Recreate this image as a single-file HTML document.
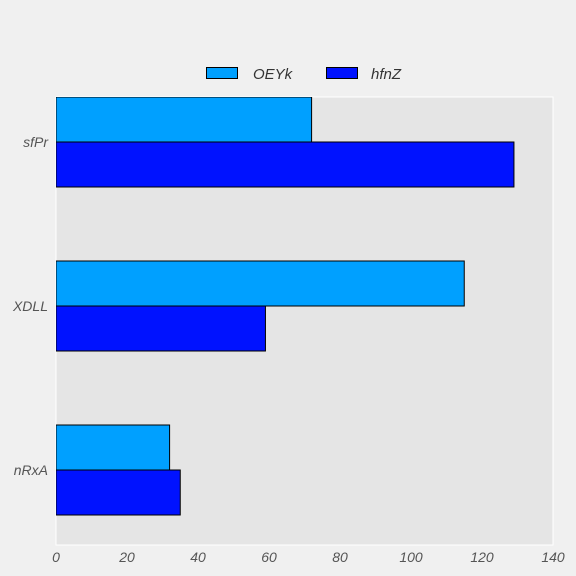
<!DOCTYPE html>
<html><head><meta charset="utf-8"><style>
body{margin:0;background:#f0f0f0;}
svg{display:block;font-family:"Liberation Sans",sans-serif;}
</style></head><body>
<svg id="chart" width="576" height="576" xmlns="http://www.w3.org/2000/svg">
<rect x="0" y="0" width="576" height="576" fill="#f0f0f0"/>
<defs><clipPath id="clip"><rect x="56" y="97" width="497" height="448"/></clipPath></defs>
<rect x="56" y="97" width="497" height="448" fill="#e5e5e5" stroke="#ffffff" stroke-width="1"/>
<g id="bars" clip-path="url(#clip)"></g>
<g id="axes"></g>
<g>
<rect x="206.5" y="67.5" width="31" height="11" fill="#00a0ff" stroke="#000"/>
<text x="253" y="79" font-size="15" font-style="italic" fill="#333">OEYk</text>
<rect x="326.5" y="67.5" width="31" height="11" fill="#0012ff" stroke="#000"/>
<text x="371" y="79" font-size="15" font-style="italic" fill="#333">hfnZ</text>
</g>
</svg>
<script>
const categories = ["nRxA", "XDLL", "sfPr"];
const oeykValues = [32, 115, 72];
const hfnzValues = [35, 59, 129];
const xTicks = [0, 20, 40, 60, 80, 100, 120, 140];
const NS = "http://www.w3.org/2000/svg";
const x0 = 56, xPerUnit = 497 / 140;
function xScale(v){ return x0 + v * xPerUnit; }
function yCenter(i){ return 470 - 164 * i; }
const barH = 45;
const bars = document.getElementById("bars");
const axes = document.getElementById("axes");
function mk(tag, attrs, parent){ const e = document.createElementNS(NS, tag); for (const k in attrs) e.setAttribute(k, attrs[k]); parent.appendChild(e); return e; }
categories.forEach((c, i) => {
  const yc = yCenter(i);
  const r1 = mk("rect", {x: xScale(0), y: yc - barH, width: xScale(oeykValues[i]) - xScale(0), height: barH, fill: "#00a0ff", stroke: "#000", "stroke-width": 1}, bars);
  
  
  const r2 = mk("rect", {x: xScale(0), y: yc, width: xScale(hfnzValues[i]) - xScale(0), height: barH, fill: "#0012ff", stroke: "#000", "stroke-width": 1}, bars);
  
  
  const t = mk("text", {x: 48, y: yc + 5, "text-anchor": "end", "font-size": 14, "font-style": "italic", fill: "#555"}, axes);
  t.textContent = c;
  
  
});
xTicks.forEach(v => {
  const t = mk("text", {x: xScale(v), y: 562, "text-anchor": "middle", "font-size": 14, "font-style": "italic", fill: "#555"}, axes);
  t.textContent = v;
  
  
});
</script>
</body></html>
